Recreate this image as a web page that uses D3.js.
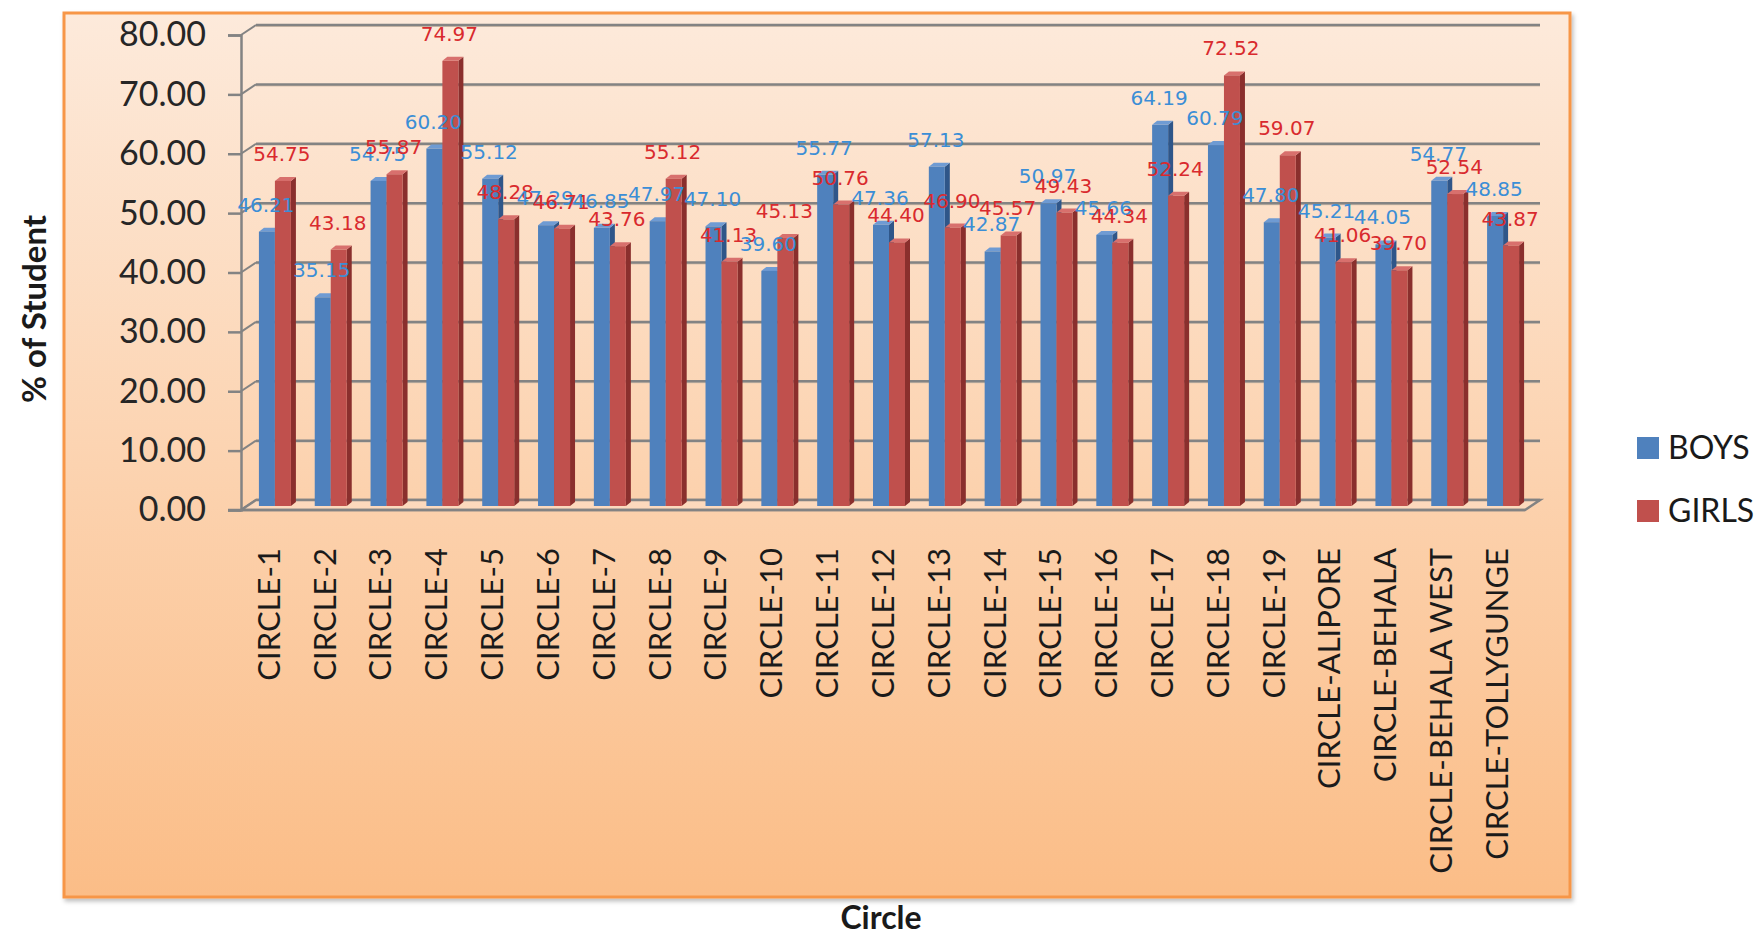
<!DOCTYPE html>
<html>
<head>
<meta charset="utf-8">
<script src="https://cdn.jsdelivr.net/npm/d3@7"></script>
<style>
  html, body { margin: 0; padding: 0; background: #ffffff; }
  svg { display: block; }
</style>
</head>
<body>
<svg id="chart" width="1764" height="935"></svg>
<script>
// ---- data ----
const categories = ["CIRCLE-1","CIRCLE-2","CIRCLE-3","CIRCLE-4","CIRCLE-5","CIRCLE-6","CIRCLE-7","CIRCLE-8","CIRCLE-9","CIRCLE-10","CIRCLE-11","CIRCLE-12","CIRCLE-13","CIRCLE-14","CIRCLE-15","CIRCLE-16","CIRCLE-17","CIRCLE-18","CIRCLE-19","CIRCLE-ALIPORE","CIRCLE-BEHALA","CIRCLE-BEHALA WEST","CIRCLE-TOLLYGUNGE"];
const boys  = [46.21,35.15,54.75,60.20,55.12,47.29,46.85,47.97,47.10,39.60,55.77,47.36,57.13,42.87,50.97,45.66,64.19,60.79,47.80,45.21,44.05,54.77,48.85];
const girls = [54.75,43.18,55.87,74.97,48.28,46.71,43.76,55.12,41.13,45.13,50.76,44.40,46.90,45.57,49.43,44.34,52.24,72.52,59.07,41.06,39.70,52.54,43.87];
const seriesNames = ["BOYS","GIRLS"];
const yTicks = [0,10,20,30,40,50,60,70,80];
const yTitle = "% of Student";
const xTitle = "Circle";

// ---- layout ----
const svg = d3.select("#chart");
const colors = { BOYS: "#4f81bd", GIRLS: "#c0504d" };
const sideColors = { BOYS: "#2f5689", GIRLS: "#8a2f2d" };
const topColors = { BOYS: "#6f9bd3", GIRLS: "#d8706d" };
const labelColors = { BOYS: "#3b8ed6", GIRLS: "#d92a2e" };

const plotLeft = 241, plotRight = 1525, yTop = 35, yBottom = 510;
const wallDx = 15, wallDy = -10;
const barDx = 5, barDy = -4;

const x = d3.scaleBand().domain(categories).range([plotLeft, plotRight]).padding(0);
const y = d3.scaleLinear().domain([0, 80]).range([yBottom, yTop]);
const xs = d3.scaleBand().domain(seriesNames).range([-10, 22]).padding(0);

// defs: background gradient
const defs = svg.append("defs");
const grad = defs.append("linearGradient").attr("id", "bg").attr("x1", 0).attr("y1", 0).attr("x2", 0).attr("y2", 1);
grad.append("stop").attr("offset", "0%").attr("stop-color", "#fdeadb");
grad.append("stop").attr("offset", "100%").attr("stop-color", "#fbbd87");
const sh = defs.append("filter").attr("id", "shadow").attr("x", "-5%").attr("y", "-5%").attr("width", "110%").attr("height", "110%");
sh.append("feDropShadow").attr("dx", 2).attr("dy", 3).attr("stdDeviation", 2).attr("flood-color", "#000").attr("flood-opacity", 0.25);

// chart box
svg.append("rect")
  .attr("x", 64).attr("y", 13).attr("width", 1506).attr("height", 884)
  .attr("fill", "url(#bg)").attr("stroke", "#f79646").attr("stroke-width", 3)
  .attr("filter", "url(#shadow)");

const axisColor = "#838383";
const g = svg.append("g");

// back wall gridlines + side-wall diagonals
yTicks.forEach(t => {
  const yy = y(t);
  g.append("line").attr("x1", plotLeft + wallDx).attr("x2", plotRight + wallDx)
    .attr("y1", yy + wallDy + 1).attr("y2", yy + wallDy + 1)
    .attr("stroke", "#d9c2ad").attr("stroke-width", 2);
  g.append("line").attr("x1", plotLeft + wallDx).attr("x2", plotRight + wallDx)
    .attr("y1", yy + wallDy).attr("y2", yy + wallDy)
    .attr("stroke", axisColor).attr("stroke-width", 2.5);
  g.append("line").attr("x1", plotLeft).attr("x2", plotLeft + wallDx)
    .attr("y1", yy).attr("y2", yy + wallDy)
    .attr("stroke", axisColor).attr("stroke-width", 2);
});

// floor
g.append("path")
  .attr("d", `M${plotLeft},${y(0)} L${plotRight},${y(0)} L${plotRight + wallDx},${y(0) + wallDy} L${plotLeft + wallDx},${y(0) + wallDy} Z`)
  .attr("fill", "#fcd9bd").attr("stroke", axisColor).attr("stroke-width", 2.5);

// y axis via d3
const yAxis = d3.axisLeft(y).tickValues(yTicks).tickFormat(d3.format(".2f")).tickSize(13).tickPadding(22);
const ya = svg.append("g").attr("transform", `translate(${plotLeft},0)`).call(yAxis);
ya.select(".domain").attr("stroke", axisColor).attr("stroke-width", 2.5);
ya.selectAll(".tick line").attr("stroke", axisColor).attr("stroke-width", 2.5);
ya.selectAll(".tick text").attr("fill", "#262626").style("font-family", "Lato, sans-serif").style("font-size", "34px");

// x axis line at front
svg.append("line").attr("x1", plotLeft - 13).attr("x2", plotRight).attr("y1", y(0)).attr("y2", y(0))
  .attr("stroke", axisColor).attr("stroke-width", 2.5);

// bars
const bars = svg.append("g");
const seriesData = { BOYS: boys, GIRLS: girls };
const labels = [];
categories.forEach((c, i) => {
  seriesNames.forEach(s => {
    const v = seriesData[s][i];
    const x0 = x(c) + x.bandwidth() / 2 + xs(s);
    const w = xs.bandwidth();
    const yt = y(v) + barDy;
    const yb = y(0) + barDy;
    bars.append("path")
      .attr("d", `M${x0 + w},${yb} L${x0 + w + barDx},${yb + barDy} L${x0 + w + barDx},${yt + barDy} L${x0 + w},${yt} Z`)
      .attr("fill", sideColors[s]);
    bars.append("path")
      .attr("d", `M${x0},${yt} L${x0 + barDx},${yt + barDy} L${x0 + w + barDx},${yt + barDy} L${x0 + w},${yt} Z`)
      .attr("fill", topColors[s]);
    bars.append("rect").attr("x", x0).attr("y", yt).attr("width", w).attr("height", yb - yt)
      .attr("fill", colors[s]);
    labels.push({ s, v, cx: x0 + w / 2 - 1, cy: y(v) - 31 });
  });
});

// value labels
svg.append("g").selectAll("text").data(labels).join("text")
  .attr("x", d => d.cx).attr("y", d => d.cy)
  .attr("text-anchor", "middle").attr("dominant-baseline", "central")
  .attr("fill", d => labelColors[d.s])
  .style("font-family", "'DejaVu Sans', sans-serif").style("font-size", "20px")
  .text(d => d3.format(".2f")(d.v));

// category labels
svg.append("g").selectAll("text").data(categories).join("text")
  .attr("transform", d => `translate(${x(d) + x.bandwidth() / 2},548) rotate(-90)`)
  .attr("text-anchor", "end").attr("dy", "0.35em")
  .attr("fill", "#1a1a1a")
  .style("font-family", "Lato, sans-serif").style("font-size", "31px")
  .text(d => d);

// axis titles
svg.append("text").attr("transform", "translate(34,309) rotate(-90)")
  .attr("text-anchor", "middle").attr("dy", "0.35em")
  .attr("fill", "#1a1a1a").style("font-family", "Lato, sans-serif").style("font-weight", "bold").style("font-size", "33px")
  .text(yTitle);
svg.append("text").attr("x", 881).attr("y", 918)
  .attr("text-anchor", "middle").attr("dy", "0.35em")
  .attr("fill", "#1a1a1a").style("font-family", "Lato, sans-serif").style("font-weight", "bold").style("font-size", "32px")
  .text(xTitle);

// legend
const leg = svg.append("g").selectAll("g").data(seriesNames).join("g")
  .attr("transform", (d, i) => `translate(1637,${448 + i * 63})`);
leg.append("rect").attr("x", 0).attr("y", -11).attr("width", 22).attr("height", 22).attr("fill", d => colors[d]);
leg.append("text").attr("x", 31).attr("y", 0).attr("dy", "0.35em")
  .attr("fill", "#1a1a1a").style("font-family", "Lato, sans-serif").style("font-size", "32px")
  .text(d => d);
</script>
</body>
</html>
